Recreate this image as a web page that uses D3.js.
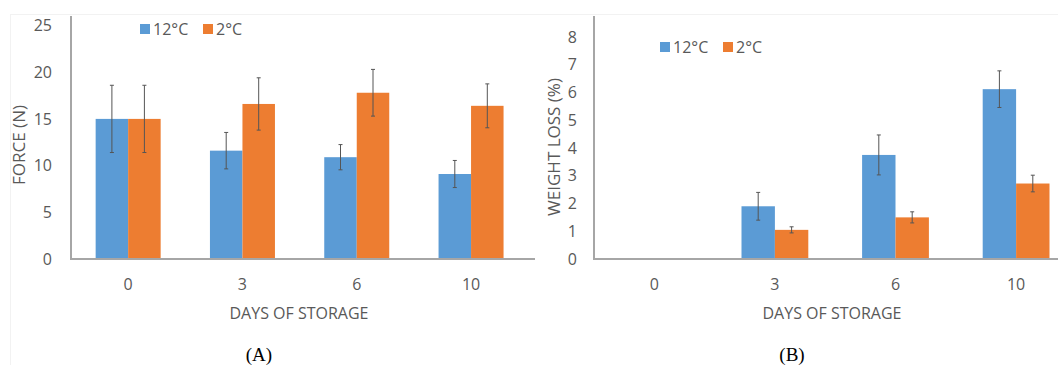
<!DOCTYPE html>
<html>
<head>
<meta charset="utf-8">
<script src="https://cdn.jsdelivr.net/npm/d3@7/dist/d3.min.js"></script>
<style>
  html, body { margin: 0; padding: 0; background: #fff; }
  svg { display: block; }
  text { font-family: "Open Sans", Lato, sans-serif; fill: #595959; }
  .cap { font-family: "Liberation Serif", "DejaVu Serif", serif; fill: #000; }
</style>
</head>
<body>
<svg id="chart" width="1058" height="365"></svg>
<script>
// ---- data ----
const days = ["0", "3", "6", "10"];
const seriesNames = ["12°C", "2°C"];
const colors = ["#5B9BD5", "#ED7D31"];

const forceTicks = [0, 5, 10, 15, 20, 25];
const force12 = [15.0, 11.6, 10.9, 9.1];
const force2 = [15.0, 16.6, 17.8, 16.4];
const force12Err = [3.6, 1.95, 1.35, 1.45];
const force2Err = [3.6, 2.8, 2.5, 2.35];

const lossTicks = [0, 1, 2, 3, 4, 5, 6, 7, 8];
const loss12 = [0, 1.9, 3.75, 6.12];
const loss2 = [0, 1.05, 1.5, 2.72];
const loss12Err = [0, 0.5, 0.72, 0.66];
const loss2Err = [0, 0.11, 0.2, 0.3];

const svg = d3.select("#chart");

// faint panel borders
svg.append("rect").attr("x", 10.5).attr("y", 14.5).attr("width", 1100).attr("height", 400)
  .attr("fill", "none").attr("stroke", "#f2f2f2");

function panel(cfg) {
  const g = svg.append("g");
  const x = d3.scaleBand().domain(days).range([cfg.x0, cfg.x0 + cfg.band * 4]);
  const y = d3.scaleLinear().domain([0, cfg.ymax]).range([cfg.yBase, cfg.yTopTick]);
  const inner = d3.scaleBand().domain([0, 1]).range([0, cfg.barW * 2]);

  // bars
  const data = [];
  days.forEach((d, i) => {
    [cfg.s12, cfg.s2].forEach((s, k) => {
      data.push({ d, k, v: s[i], e: [cfg.e12, cfg.e2][k][i] });
    });
  });
  g.selectAll("rect.bar").data(data.filter(o => o.v > 0)).enter().append("rect")
    .attr("class", "bar")
    .attr("x", o => x(o.d) + x.bandwidth() / 2 - cfg.barW + inner(o.k))
    .attr("width", inner.bandwidth())
    .attr("y", o => y(o.v))
    .attr("height", o => y(0) - y(o.v))
    .attr("fill", o => colors[o.k]);

  // error bars
  const eb = g.selectAll("g.err").data(data.filter(o => o.e > 0)).enter().append("g")
    .attr("stroke", "#555").attr("stroke-width", 1);
  const cx = o => x(o.d) + x.bandwidth() / 2 - cfg.barW + inner(o.k) + inner.bandwidth() / 2;
  eb.append("line").attr("x1", cx).attr("x2", cx)
    .attr("y1", o => y(o.v + o.e)).attr("y2", o => y(o.v - o.e));
  eb.append("line").attr("x1", o => cx(o) - 2).attr("x2", o => cx(o) + 2)
    .attr("y1", o => y(o.v + o.e)).attr("y2", o => y(o.v + o.e));
  eb.append("line").attr("x1", o => cx(o) - 2).attr("x2", o => cx(o) + 2)
    .attr("y1", o => y(o.v - o.e)).attr("y2", o => y(o.v - o.e));

  // y axis
  const ya = g.append("g").attr("transform", `translate(${cfg.x0},0)`)
    .call(d3.axisLeft(y).tickValues(cfg.ticks).tickSize(0).tickPadding(cfg.yPad));
  ya.select(".domain").remove();
  ya.selectAll("text").style("font-size", "16px").attr("fill", "#595959")
    .style("font-family", '"Open Sans", sans-serif');
  g.append("line").attr("x1", cfg.x0).attr("x2", cfg.x0).attr("y1", 16).attr("y2", cfg.yBase)
    .attr("stroke", "#a6a6a6").attr("stroke-width", 2);

  // x axis
  const xa = g.append("g").attr("transform", `translate(0,${cfg.yBase})`)
    .call(d3.axisBottom(x).tickSize(0).tickPadding(20));
  xa.select(".domain").remove();
  xa.selectAll("text").style("font-size", "16px").attr("fill", "#595959")
    .style("font-family", '"Open Sans", sans-serif');
  g.append("line").attr("x1", cfg.x0 - 1).attr("x2", cfg.xEnd).attr("y1", cfg.yBase).attr("y2", cfg.yBase)
    .attr("stroke", "#a6a6a6").attr("stroke-width", 2);

  // axis titles
  g.append("text").attr("x", cfg.titleX).attr("y", 319).attr("text-anchor", "middle")
    .style("font-size", "16px").text("DAYS OF STORAGE");
  g.append("text").attr("transform", `translate(${cfg.yTitleX},${cfg.yTitleY}) rotate(-90)`)
    .attr("text-anchor", "middle").style("font-size", "17px").text(cfg.yTitle);

  // legend
  seriesNames.forEach((n, k) => {
    g.append("rect").attr("x", cfg.legX[k]).attr("y", cfg.legY - 5).attr("width", 10).attr("height", 10)
      .attr("fill", colors[k]);
    g.append("text").attr("x", cfg.legX[k] + 13).attr("y", cfg.legY + 6)
      .style("font-size", "16px").text(n);
  });

  // panel caption
  g.append("text").attr("class", "cap").attr("x", cfg.titleX - 40).attr("y", 361)
    .attr("text-anchor", "middle").style("font-size", "19px").text(cfg.caption);
}

panel({
  x0: 71, band: 114.3, barW: 32.5, yBase: 259, yTopTick: 25.5, ymax: 25, ticks: forceTicks,
  s12: force12, s2: force2, e12: force12Err, e2: force2Err, yPad: 19,
  xEnd: 535, titleX: 299, yTitle: "FORCE (N)", yTitleX: 25, yTitleY: 145,
  legX: [140, 203], legY: 29, caption: "(A)"
});
panel({
  x0: 594, band: 120.6, barW: 33.4, yBase: 259, yTopTick: 37, ymax: 8, ticks: lossTicks,
  s12: loss12, s2: loss2, e12: loss12Err, e2: loss2Err, yPad: 17,
  xEnd: 1058, titleX: 832, yTitle: "WEIGHT LOSS (%)", yTitleX: 560, yTitleY: 147,
  legX: [660, 723], legY: 47, caption: "(B)"
});
</script>
</body>
</html>
